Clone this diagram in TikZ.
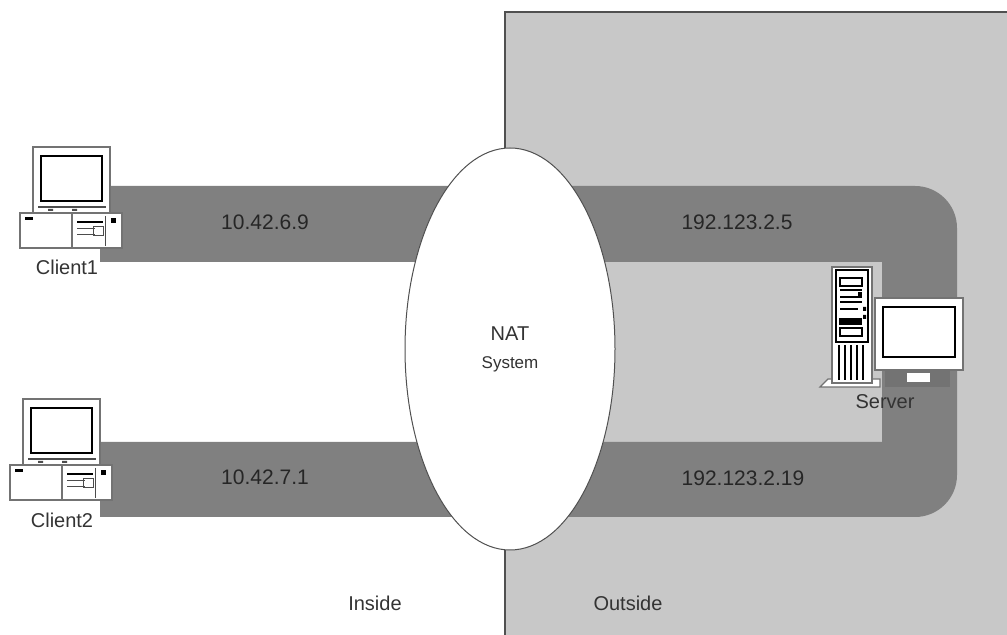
\documentclass[tikz,border=0pt]{standalone}
\usepackage{fontspec}
\setmainfont{Liberation Sans}
\usetikzlibrary{shapes.geometric}
\definecolor{link}{HTML}{808080}
\definecolor{outer}{HTML}{C8C8C8}
\definecolor{rim}{HTML}{505050}
\tikzstyle{tag}=[text=black!80, font=\fontsize{10}{12}\selectfont]
\tikzstyle{addr}=[text=black!85, font=\fontsize{10.5}{12}\selectfont]
\tikzstyle{casing}=[draw=black!55, fill=white, line width=0.6pt]
\tikzstyle{natbox}=[ellipse, draw=rim, fill=white, line width=0.5pt, minimum width=105pt, minimum height=201pt, align=center, text=black!80, font=\fontsize{10}{12}\selectfont]
\tikzset{
  desktop/.pic={
    % monitor
    \draw[casing] (13,-66) rectangle (90,0);
    \draw[black, line width=1.3pt, fill=white] (21,-57) rectangle (82,-12);
    \draw[black!70, line width=0.6pt] (18,-6) -- (86,-6);
    \fill[black!70] (28,-4) rectangle (33,-2) (52,-4) rectangle (57,-2);
    % system unit
    \draw[casing] (0,0) rectangle (102,35);
    \draw[casing] (52,0) rectangle (102,35);
    \fill[black] (5,4) rectangle (13,7);
    \draw[black, line width=1pt] (57,9) -- (83,9);
    \draw[black!70] (57,15) -- (75,15) (57,21) -- (75,21);
    \draw[black!70] (73,13) rectangle (83,22);
    \draw[black!70] (85,3) -- (85,33);
    \fill[black] (91,5) rectangle (96,10);
  },
  server/.pic={
    % foot plate
    \draw[casing] (-12,120) -- (-4,112) -- (48,112) -- (48,120) -- cycle;
    % tower
    \draw[casing] (0,0) rectangle (40,116);
    \draw[black, line width=0.8pt] (4,3) rectangle (36,75);
    \draw[black, line width=0.6pt] (8,11) rectangle (30,19);
    \draw[black, line width=0.6pt] (8,23) -- (30,23) (8,30) -- (30,30);
    \fill[black] (26,25) rectangle (30,29);
    \draw[black, line width=0.6pt] (8,35) -- (30,35) (8,42) -- (26,42);
    \fill[black] (31,40) rectangle (34,44) (31,48) rectangle (34,52);
    \fill[black] (7,51) rectangle (30,58);
    \draw[black, line width=0.6pt] (8,61) rectangle (30,69);
    \foreach \x in {7,13,19,25,31}
      \draw[black, line width=0.8pt] (\x,78) -- (\x,113);
    % stand
    \fill[black!55] (53,103) rectangle (118,120);
    \fill[white] (75,106) rectangle (98,115);
    % monitor
    \draw[casing] (43,31) rectangle (131,103);
    \draw[black, line width=1.3pt, fill=white] (51,40) rectangle (123,90);
  }
}

\begin{document}
\begin{tikzpicture}[x=0.5pt, y=-0.5pt]
  \useasboundingbox (0,0) rectangle (1007,635);
  \clip (0,0) rectangle (1007,635);
  % outside area
  \draw[rim, fill=outer, line width=0.7pt] (505,12) rectangle (1020,650);
  % the two links
  \fill[link] (100,262) -- (100,196) arc[start angle=180, end angle=270, radius=10]
    -- (915,186) arc[start angle=-90, end angle=0, radius=42]
    -- (957,475) arc[start angle=0, end angle=90, radius=42]
    -- (100,517) -- (100,442) -- (882,442) -- (882,262) -- cycle;
  \node[natbox] (nat) at (510,349) {NAT\\[2pt]{\fontsize{8.5}{10}\selectfont System}};
  % machines
  \pic (client1) at (20,213) {desktop};
  \pic (client2) at (10,465) {desktop};
  \pic (server) at (832,267) {server};
  \node[tag] (c1) at (67,267) {Client1};
  \node[tag] (c2) at (62,520) {Client2};
  \node[tag] (srv) at (885,402) {Server};
  % addresses
  \node[addr] (in1) at (265,222) {10.42.6.9};
  \node[addr] (out1) at (737,222) {192.123.2.5};
  \node[addr] (in2) at (265,477) {10.42.7.1};
  \node[addr] (out2) at (743,478) {192.123.2.19};
  \node[tag] (inside) at (375,603) {Inside};
  \node[tag] (outside) at (628,603) {Outside};
\end{tikzpicture}
\end{document}
